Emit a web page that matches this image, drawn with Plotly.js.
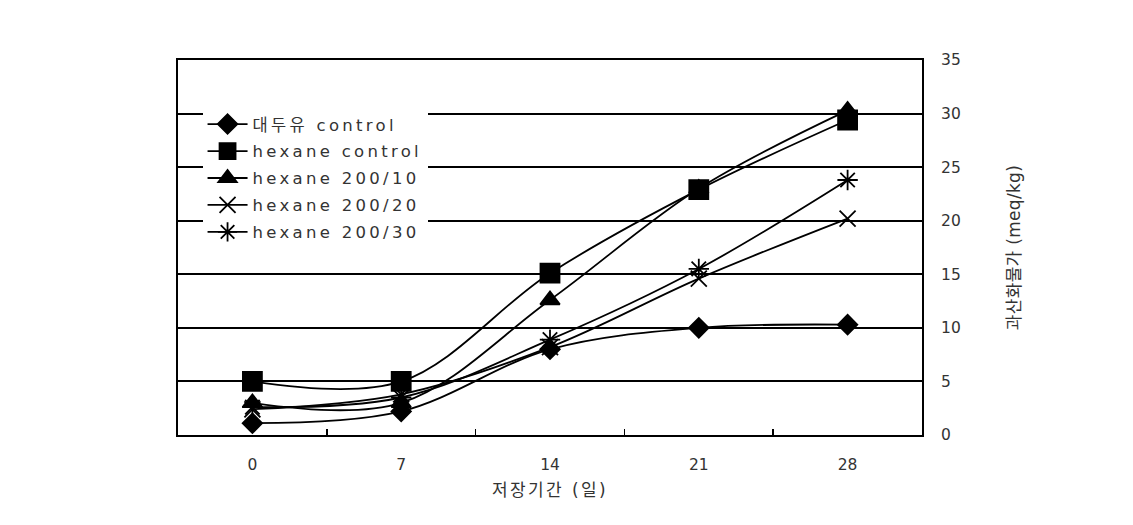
<!DOCTYPE html>
<html>
<head>
<meta charset="utf-8">
<script src="https://cdn.plot.ly/plotly-3.0.1.min.js"></script>
<style>
html,body{margin:0;padding:0;background:#fff;}
#chart{width:1133px;height:525px;}
.legendtext{letter-spacing:3.3px;}
.xtitle{letter-spacing:2.4px;}
.ytitle{letter-spacing:0.3px;}
</style>
</head>
<body>
<div id="chart"></div>
<script>
var days = ['0', '7', '14', '21', '28'];
var seriesNames = ['대두유 control', 'hexane control', 'hexane 200/10', 'hexane 200/20', 'hexane 200/30'];
var soybeanControl = [1.1, 2.2, 8.0, 10.0, 10.3];
var hexaneControl = [5.0, 5.0, 15.1, 22.9, 29.4];
var hexane200_10 = [3.0, 3.0, 12.6, 23.0, 30.3];
var hexane200_20 = [2.4, 3.8, 8.2, 14.6, 20.2];
var hexane200_30 = [2.6, 3.5, 8.9, 15.5, 23.8];
var symbols = ['diamond', 'square', 'triangle-up', 'x-thin-open', 'asterisk-open'];
var sizes = [15, 19, 17, 16, 17];

var values = [soybeanControl, hexaneControl, hexane200_10, hexane200_20, hexane200_30];
var font = 'DejaVu Sans, Noto Sans CJK KR, sans-serif';
var traces = values.map(function (v, i) {
  return {
    x: days, y: v, name: seriesNames[i], type: 'scatter', mode: 'lines+markers',
    legendgroup: 'g' + i,
    line: {color: '#000', width: 1.8, shape: 'spline', smoothing: 1},
    marker: {symbol: symbols[i], size: sizes[i], color: '#000', line: {color: '#000', width: 1.8}}
  };
});

var layout = {
  width: 1133, height: 525,
  margin: {l: 178, r: 211, t: 60, b: 90},
  paper_bgcolor: '#fff', plot_bgcolor: '#fff',
  font: {family: font, color: '#333', size: 15},
  showlegend: true,
  legend: {x: 0.033, y: 0.875, xanchor: 'left', yanchor: 'top', bgcolor: '#fff',
    font: {family: font, size: 16.5, color: '#333'}, tracegroupgap: 2.5, itemwidth: 40},
  xaxis: {
    type: 'category', range: [-0.5, 4.5], showgrid: false, zeroline: false,
    showline: true, linecolor: '#000', linewidth: 2, mirror: true,
    ticks: 'inside', tickson: 'boundaries', ticklen: 6, tickwidth: 1.5, tickcolor: '#000',
    ticklabelstandoff: 14,
    tickfont: {family: font, size: 15.5, color: '#333'},
    title: {text: '저장기간 (일)', font: {family: font, size: 17, color: '#333'}, standoff: 12}
  },
  yaxis: {
    side: 'right', range: [0, 35], dtick: 5, tick0: 0,
    showgrid: true, gridcolor: '#000', gridwidth: 2, zeroline: false,
    showline: true, linecolor: '#000', linewidth: 2, mirror: true,
    ticks: '', ticklabelstandoff: 14,
    tickfont: {family: font, size: 15.5, color: '#333'},
    title: {text: '과산화물가 (meq/kg)', font: {family: font, size: 17, color: '#333'}, standoff: 48}
  }
};
Plotly.newPlot('chart', traces, layout, {displayModeBar: false, staticPlot: true});
</script>
</body>
</html>
